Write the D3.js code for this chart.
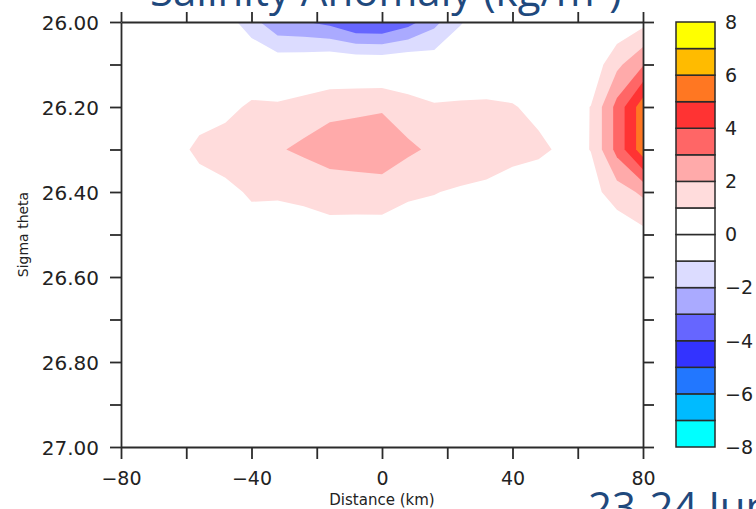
<!DOCTYPE html>
<html>
<head>
<meta charset="utf-8">
<script src="https://cdn.jsdelivr.net/npm/d3@7"></script>
<style>
  html, body { margin: 0; padding: 0; background: #fff; overflow: hidden; }
  svg { display: block; }
  .tick text { font-family: "DejaVu Sans", sans-serif; fill: #222; }
</style>
</head>
<body>
<svg id="chart" width="756" height="509"></svg>
<script>
// Section grid: distance along the transect (km) and density surfaces (sigma theta)
const distances = [-80, -72, -64, -56, -48, -40, -32, -24, -16, -8, 0, 8, 16, 24, 32, 40, 48, 56, 64, 72, 80];
const sigmaLevels = [26.0, 26.1, 26.2, 26.3, 26.4, 26.5, 26.6, 26.7, 26.8, 26.9, 27.0];

// Salinity anomaly (kg/m^3), one row per sigma level, one column per distance
const row2600 = [0, 0, 0, 0, -0.5, -1.6, -2.8, -2.95, -3.3, -4.05, -4.1, -3.4, -2.3, -1.1, -0.3, 0, 0, 0, 0, 0.2, 0.7];
const row2610 = [0, 0, 0, 0, 0, 0, -0.3, -0.2, 0, -0.05, -0.1, 0, -0.33, 0, 0, 0, 0, 0, 0.3, 1.75, 2.9];
const row2620 = [0, 0, 0.2, 0.4, 0.65, 1.2, 1.18, 1.44, 1.72, 1.8, 1.9, 1.43, 1.15, 1.18, 1.22, 1.1, 0.63, 0.6, 1.02, 3.33, 5.6];
const row2630 = [0, 0.1, 0.5, 1.3, 1.6, 1.7, 1.9, 2.2, 2.5, 2.6, 2.6, 2.2, 1.8, 1.6, 1.5, 1.4, 1.3, 0.7, 1.02, 3.33, 5.6];
const row2640 = [0, 0, 0.1, 0.4, 0.7, 1.15, 1.1, 1.15, 1.41, 1.45, 1.57, 1.09, 1.03, 0.9, 0.79, 0.42, 0, 0.3, 0.64, 1.5, 2.2];
const row2650 = [0, 0, 0, 0, 0.3, 0.5, 0.6, 0.7, 0.65, 0.6, 0.5, 0.7, 0.6, 0.4, 0.3, 0.2, 0.1, 0, 0.1, 0.3, 0.7];
const row2660 = [0, 0, 0, 0, 0, 0, 0, 0, 0, 0, 0, 0, 0, 0, 0, 0, 0, 0, 0, 0, 0];
const row2670 = [0, 0, 0, 0, 0, 0, 0, 0, 0, 0, 0, 0, 0, 0, 0, 0, 0, 0, 0, 0, 0];
const row2680 = [0, 0, 0, 0, 0, 0, 0, 0, 0, 0, 0, 0, 0, 0, 0, 0, 0, 0, 0, 0, 0];
const row2690 = [0, 0, 0, 0, 0, 0, 0, 0, 0, 0, 0, 0, 0, 0, 0, 0, 0, 0, 0, 0, 0];
const row2700 = [0, 0, 0, 0, 0, 0, 0, 0, 0, 0, 0, 0, 0, 0, 0, 0, 0, 0, 0, 0, 0];
const salinityAnomaly = [row2600, row2610, row2620, row2630, row2640, row2650,
                         row2660, row2670, row2680, row2690, row2700];

// Contour levels and the fill of each interval between consecutive levels
const levels = [-8, -7, -6, -5, -4, -3, -2, -1, 0, 1, 2, 3, 4, 5, 6, 7, 8];
const bandColors = ["#00ffff", "#00bbff", "#2277ff", "#3333ff", "#6666ff", "#aaaaff", "#dcdcff", "#ffffff",
                    "#ffffff", "#ffdcdc", "#ffaaaa", "#ff6666", "#ff3333", "#ff7722", "#ffbb00", "#ffff00"];
const colorbarLabels = [8, 6, 4, 2, 0, -2, -4, -6, -8];

// Axis ticks
const xTicks = [-80, -60, -40, -20, 0, 20, 40, 60, 80];
const xTickLabels = [-80, -40, 0, 40, 80];
const yTicks = [26.0, 26.1, 26.2, 26.3, 26.4, 26.5, 26.6, 26.7, 26.8, 26.9, 27.0];
const yTickLabels = [26.0, 26.2, 26.4, 26.6, 26.8, 27.0];

const titleText = "Salinity Anomaly (kg/m³)";
const dateText = "23-24 Jun";

const svg = d3.select("#chart");
const plot = { left: 121, right: 643, top: 22, bottom: 447 };
const ink = "#2b2b2b";

const x = d3.scaleLinear().domain([-80, 80]).range([plot.left, plot.right]);
const y = d3.scaleLinear().domain([26.0, 27.0]).range([plot.top, plot.bottom]);

// d3.contours places grid value i at coordinate i + 0.5
const nx = distances.length, ny = sigmaLevels.length;
const gx = d3.scaleLinear().domain([0.5, nx - 0.5]).range([distances[0], distances[nx - 1]]);
const gy = d3.scaleLinear().domain([0.5, ny - 0.5]).range([sigmaLevels[0], sigmaLevels[ny - 1]]);
const toScreen = d3.geoTransform({
  point(px, py) { this.stream.point(x(gx(px)), y(gy(py))); }
});
const contourPath = d3.geoPath(toScreen);

svg.append("clipPath").attr("id", "plot-clip")
  .append("rect")
  .attr("x", plot.left).attr("y", plot.top)
  .attr("width", plot.right - plot.left).attr("height", plot.bottom - plot.top);

const field = svg.append("g").attr("clip-path", "url(#plot-clip)");
field.append("rect")
  .attr("x", plot.left).attr("y", plot.top)
  .attr("width", plot.right - plot.left).attr("height", plot.bottom - plot.top)
  .attr("fill", "#ffffff");

const values = salinityAnomaly.flat();
const negated = values.map(v => -v);
const contourGen = d3.contours().size([nx, ny]);

// Positive anomalies: region >= level, filled with the interval above that level
const zeroIdx = levels.indexOf(0);
const layers = [];
for (let i = zeroIdx + 1; i < levels.length - 1; i++) {
  layers.push({ geom: contourGen.contour(values, levels[i]), color: bandColors[i] });
}
// Negative anomalies: region <= level, filled with the interval below that level
for (let i = zeroIdx - 1; i > 0; i--) {
  layers.push({ geom: contourGen.contour(negated, -levels[i]), color: bandColors[i - 1] });
}
field.selectAll("path.band")
  .data(layers)
  .join("path")
  .attr("class", "band")
  .attr("d", d => contourPath(d.geom))
  .attr("fill", d => d.color)
  .attr("stroke", "none");

// Axes on all four sides, ticks pointing outward
const fmtX = d3.format("");
const fmtY = d3.format(".2f");
const isLabelX = d => xTickLabels.some(v => Math.abs(v - d) < 1e-9);
const isLabelY = d => yTickLabels.some(v => Math.abs(v - d) < 1e-9);

function styleAxis(g) {
  g.select(".domain").attr("stroke", ink).attr("stroke-width", 1.8);
  g.selectAll(".tick line").attr("stroke", ink).attr("stroke-width", 1.8);
}

svg.append("g")
  .attr("transform", `translate(0,${plot.bottom})`)
  .call(d3.axisBottom(x).tickValues(xTicks).tickSize(12).tickSizeOuter(0).tickPadding(12)
    .tickFormat(d => isLabelX(d) ? fmtX(d) : ""))
  .call(styleAxis)
  .call(g => g.selectAll(".tick text").attr("font-size", 19).attr("dy", 0).attr("y", 38));

svg.append("g")
  .attr("transform", `translate(0,${plot.top})`)
  .call(d3.axisTop(x).tickValues(xTicks).tickSize(10).tickSizeOuter(0).tickFormat(""))
  .call(styleAxis);

svg.append("g")
  .attr("transform", `translate(${plot.left},0)`)
  .call(d3.axisLeft(y).tickValues(yTicks).tickSize(11).tickSizeOuter(0).tickPadding(11)
    .tickFormat(d => isLabelY(d) ? fmtY(d) : ""))
  .call(styleAxis)
  .call(g => g.selectAll(".tick text").attr("font-size", 20).attr("dy", "0.36em"));

svg.append("g")
  .attr("transform", `translate(${plot.right},0)`)
  .call(d3.axisRight(y).tickValues(yTicks).tickSize(11).tickSizeOuter(0).tickFormat(""))
  .call(styleAxis);

// Axis titles
svg.append("text")
  .attr("x", x(0)).attr("y", 505)
  .attr("text-anchor", "middle")
  .attr("font-family", "DejaVu Sans, sans-serif").attr("font-size", 15)
  .attr("fill", "#222")
  .text("Distance (km)");

svg.append("text")
  .attr("transform", `translate(28,${(plot.top + plot.bottom) / 2}) rotate(-90)`)
  .attr("text-anchor", "middle")
  .attr("font-family", "DejaVu Sans, sans-serif").attr("font-size", 14)
  .attr("fill", "#222")
  .text("Sigma theta");

// Colour bar
const cb = { x: 676, w: 39 };
const cy = d3.scaleLinear().domain([levels[0], levels[levels.length - 1]]).range([plot.bottom, plot.top]);
const cbG = svg.append("g");
cbG.selectAll("rect")
  .data(bandColors)
  .join("rect")
  .attr("x", cb.x)
  .attr("y", (c, i) => cy(levels[i + 1]))
  .attr("width", cb.w)
  .attr("height", (c, i) => cy(levels[i]) - cy(levels[i + 1]))
  .attr("fill", c => c)
  .attr("stroke", ink).attr("stroke-width", 1.5);
cbG.selectAll("text")
  .data(colorbarLabels)
  .join("text")
  .attr("x", cb.x + cb.w + 10)
  .attr("y", d => cy(d))
  .attr("dy", "0.36em")
  .attr("font-family", "DejaVu Sans, sans-serif").attr("font-size", 19)
  .attr("fill", "#222")
  .text(d => fmtX(d));

// Slide title and date caption (partly outside the frame)
svg.append("text")
  .attr("x", 150).attr("y", 6)
  .attr("font-family", "Open Sans, sans-serif").attr("font-size", 42)
  .attr("fill", "#1f497d")
  .text(titleText);

svg.append("text")
  .attr("x", 588).attr("y", 522)
  .attr("font-family", "Open Sans, sans-serif").attr("font-size", 42)
  .attr("fill", "#1f497d")
  .text(dateText);
</script>
</body>
</html>
